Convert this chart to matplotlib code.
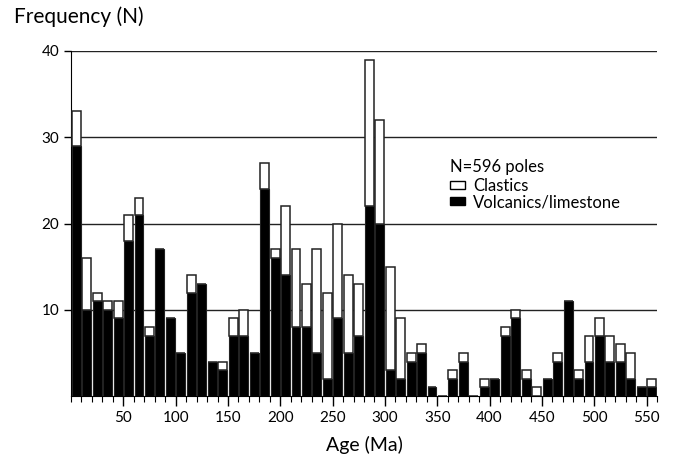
import numpy as np
import matplotlib
matplotlib.use('Agg')
import matplotlib.pyplot as plt
from matplotlib.patches import Patch
from matplotlib.ticker import MultipleLocator

plt.rcParams['font.family'] = ['Lato', 'DejaVu Sans']

# bins of 10 Ma, 0-560 Ma
age_start = np.arange(0, 560, 10)
total = [33, 16, 12, 11, 11, 21, 23, 8, 17, 9, 5, 14, 13, 4, 4, 9, 10, 5,
         27, 17, 22, 17, 13, 17, 12, 20, 14, 13, 39, 32, 15, 9, 5, 6, 1, 0,
         3, 5, 0, 2, 2, 8, 10, 3, 1, 2, 5, 11, 3, 7, 9, 7, 6, 5, 1, 2]
volcanics = [29, 10, 11, 10, 9, 18, 21, 7, 17, 9, 5, 12, 13, 4, 3, 7, 7, 5,
             24, 16, 14, 8, 8, 5, 2, 9, 5, 7, 22, 20, 3, 2, 4, 5, 1, 0,
             2, 4, 0, 1, 2, 7, 9, 2, 0, 2, 4, 11, 2, 4, 7, 4, 4, 2, 1, 1]
total = np.array(total)
volcanics = np.array(volcanics)
clastics = total - volcanics

W, H = 673, 463
fig = plt.figure(figsize=(W / 100, H / 100), dpi=100)
ax = fig.add_axes([71 / W, 67 / H, 586 / W, 345 / H])

centers = age_start + 5
ax.bar(centers, volcanics, width=8.5, color='black', edgecolor='#222222',
       linewidth=0.8, zorder=3)
ax.bar(centers, clastics, width=8.5, bottom=volcanics, color='white',
       edgecolor='#222222', linewidth=1.1, zorder=3)

ax.set_xlim(0, 560)
ax.set_ylim(0, 40)
ax.set_yticks([10, 20, 30, 40])
ax.xaxis.set_minor_locator(MultipleLocator(10))
ax.set_xticks(np.arange(50, 551, 50))
ax.tick_params(axis='x', which='major', length=7, width=1, labelsize=11)
ax.tick_params(axis='x', which='minor', length=4, width=0.8)
ax.tick_params(axis='y', length=5, width=1, labelsize=11)
ax.yaxis.grid(True, color='#222222', linewidth=1.0, zorder=0)
ax.set_axisbelow(True)
for s in ['top', 'right']:
    ax.spines[s].set_visible(False)

ax.set_xlabel('Age (Ma)', fontsize=14, labelpad=8)
fig.text(14 / W, 1 - 17 / H, 'Frequency (N)', fontsize=15, va='center', ha='left')

fig.text(450 / W, 1 - 167 / H, 'N=596 poles', fontsize=12, va='center', ha='left')
handles = [Patch(facecolor='white', edgecolor='black', linewidth=1.0),
           Patch(facecolor='black', edgecolor='black')]
ax.legend(handles, ['Clastics', 'Volcanics/limestone'],
          frameon=False, fontsize=12,
          handlelength=0.9, handleheight=0.4, handletextpad=0.5,
          labelspacing=0.0, borderpad=0, borderaxespad=0,
          loc='upper left', bbox_to_anchor=(450 / W, 1 - 178 / H),
          bbox_transform=fig.transFigure)

fig.savefig('out.png', dpi=100)
